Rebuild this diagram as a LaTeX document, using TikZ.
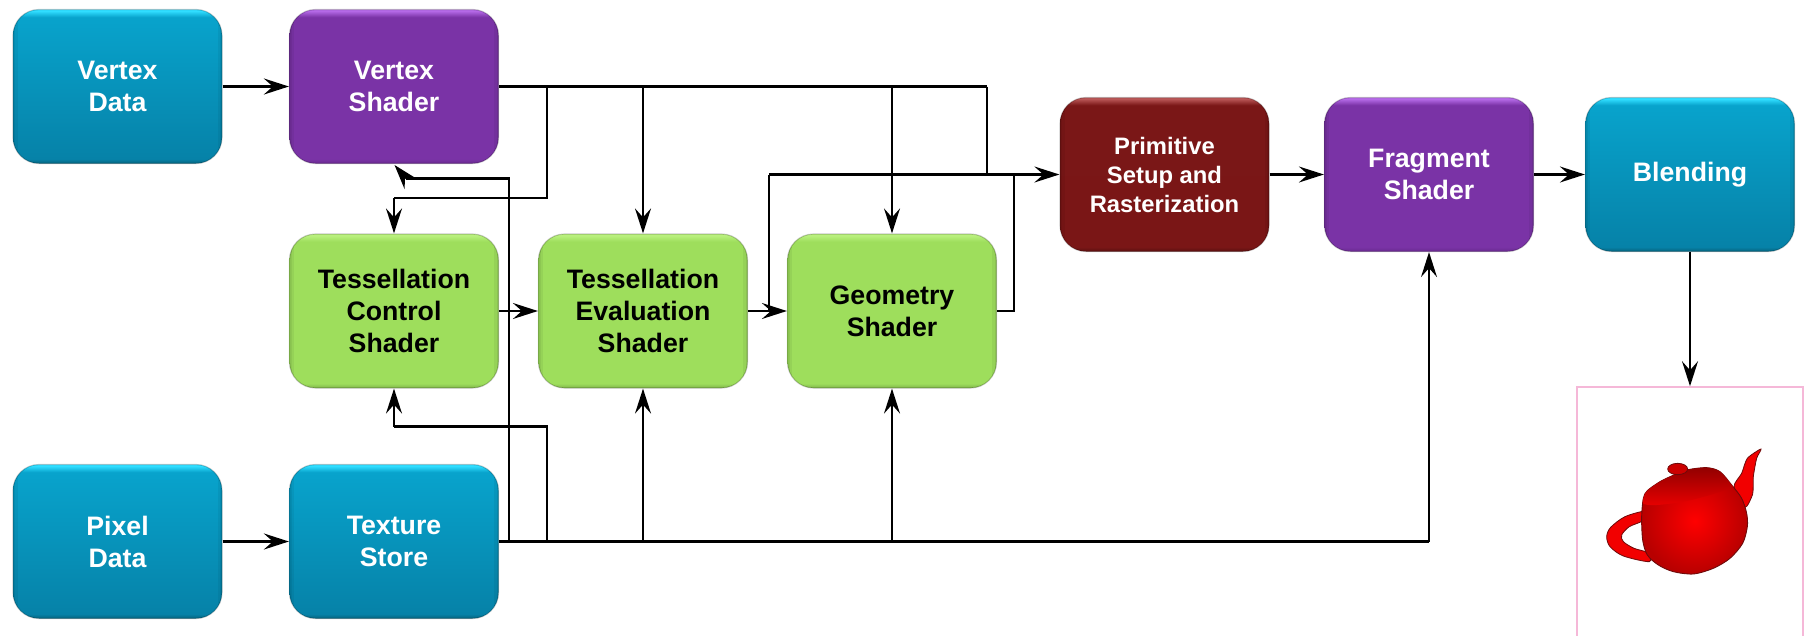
\documentclass[tikz,border=0pt]{standalone}
\usepackage{fontspec}
\setmainfont{Liberation Sans}
\usetikzlibrary{arrows.meta}
\definecolor{bluehi}{HTML}{30DDFF}\definecolor{bluetop}{HTML}{08A3CC}\definecolor{bluelow}{HTML}{0682A8}\definecolor{bluebot}{HTML}{05647F}
\definecolor{purphi}{HTML}{B469E6}\definecolor{purptop}{HTML}{7A33A6}\definecolor{purplow}{HTML}{7A33A6}\definecolor{purpbot}{HTML}{692A90}
\definecolor{greenhi}{HTML}{B9F07E}\definecolor{greentop}{HTML}{9EDE5C}\definecolor{greenlow}{HTML}{9EDE5C}\definecolor{greenbot}{HTML}{7FB54A}
\definecolor{redhi}{HTML}{B85555}\definecolor{redtop}{HTML}{7A1717}\definecolor{redlow}{HTML}{7A1616}\definecolor{redbot}{HTML}{5C1010}
\definecolor{pinkline}{HTML}{F5B8D8}
\definecolor{potdark}{HTML}{6E0A0A}
\pgfdeclareverticalshading{blueshade}{100bp}{color(0bp)=(bluebot);color(25bp)=(bluebot);color(26.5bp)=(bluelow);color(72.5bp)=(bluetop);color(74.5bp)=(bluehi);color(100bp)=(bluehi)}
\pgfdeclareverticalshading{purpshade}{100bp}{color(0bp)=(purpbot);color(25bp)=(purpbot);color(26.5bp)=(purplow);color(72.5bp)=(purptop);color(74.5bp)=(purphi);color(100bp)=(purphi)}
\pgfdeclareverticalshading{greenshade}{100bp}{color(0bp)=(greenbot);color(25bp)=(greenbot);color(26.5bp)=(greenlow);color(72.5bp)=(greentop);color(74.5bp)=(greenhi);color(100bp)=(greenhi)}
\pgfdeclareverticalshading{redshade}{100bp}{color(0bp)=(redbot);color(25bp)=(redbot);color(26.5bp)=(redlow);color(72.5bp)=(redtop);color(74.5bp)=(redhi);color(100bp)=(redhi)}
\tikzset{
  boxbase/.style={rectangle,rounded corners=26pt,minimum width=209pt,minimum height=154pt,inner sep=0pt,align=center,
    draw=black,draw opacity=.2,line width=1.2pt,
    font=\bfseries\fontsize{26.7}{32}\selectfont,
    execute at begin node={\vspace*{3pt}},
    path picture={
      \draw[black,opacity=.05,line width=9pt] (path picture bounding box.south west) -- (path picture bounding box.north west)
         (path picture bounding box.south east) -- (path picture bounding box.north east);
      \draw[black,opacity=.05,line width=4pt] (path picture bounding box.south west) -- (path picture bounding box.north west)
         (path picture bounding box.south east) -- (path picture bounding box.north east);
    }},
  bluebox/.style={boxbase,shading=blueshade,text=white},
  purplebox/.style={boxbase,shading=purpshade,text=white},
  greenbox/.style={boxbase,shading=greenshade,text=black},
  redbox/.style={boxbase,shading=redshade,text=white,font=\bfseries\fontsize{23.8}{29}\selectfont},
  wire/.style={draw=black,line width=2.1pt},
  heavy/.style={draw=black,line width=2.8pt},
  tip/.style={-{Stealth[length=25pt,width=16pt,inset=9pt]}},
}
\begin{document}
\begin{tikzpicture}[x=1pt,y=-1pt]
\useasboundingbox (0,0) rectangle (1804,635);
\fill[white] (0,0) rectangle (1804,635);
% boxes
\node[bluebox] (vd) at (117.5,86.5) {Vertex\\Data};
\node[purplebox] (vs) at (394,86.5) {Vertex\\Shader};
\node[greenbox] (tcs) at (394,311) {Tessellation\\Control\\Shader};
\node[greenbox] (tes) at (643,311) {Tessellation\\Evaluation\\Shader};
\node[greenbox] (geo) at (892,311) {Geometry\\Shader};
\node[redbox] (prim) at (1164.5,174.5) {Primitive\\Setup and\\Rasterization};
\node[purplebox] (fs) at (1429,174.5) {Fragment\\Shader};
\node[bluebox] (bl) at (1690,174.5) {Blending};
\node[bluebox] (pd) at (117.5,541.5) {Pixel\\Data};
\node[bluebox] (ts) at (394,541.5) {Texture\\Store};
\node[rectangle,draw=pinkline,line width=1.6pt,minimum width=226.5pt,minimum height=262pt,inner sep=0pt] (out) at (1690,518) {};
% junctions
\coordinate (topA) at (547,86.5);
\coordinate (topB) at (643,86.5);
\coordinate (topC) at (892,86.5);
\coordinate (topD) at (987,86.5);
\coordinate (midA) at (547,198);
\coordinate (midB) at (394,198);
\coordinate (busL) at (769,174.5);
\coordinate (busM) at (987,174.5);
\coordinate (busR) at (1014,174.5);
\coordinate (tesOut) at (769,311);
\coordinate (geoOut) at (1014,311);
\coordinate (botA) at (509,541.5);
\coordinate (botB) at (547,541.5);
\coordinate (botC) at (643,541.5);
\coordinate (botD) at (892,541.5);
\coordinate (botE) at (1429,541.5);
\coordinate (upA) at (509,178.5);
\coordinate (upB) at (406,178.5);
\coordinate (vsIn) at (394.5,165);
\coordinate (lowA) at (547,426.5);
\coordinate (lowB) at (394,426.5);
% connectors
\draw[wire] (vs.east) -- (topD);
\draw[heavy] (vs.east) -- (topC);
\draw[wire] (topD) -- (busM);
\draw[wire] (topA) -- (midA) -- (midB);
\draw[wire,tip] (midB) -- (tcs.north);
\draw[wire,tip] (topB) -- (tes.north);
\draw[wire,tip] (topC) -- (geo.north);
\draw[wire] (tesOut) -- (busL);
\draw[heavy] (busL) -- (busR);
\draw[wire,tip] (busR) -- (prim.west);
\draw[wire] (geo.east) -- (geoOut) -- (busR);
\draw[heavy,tip] (vd.east) -- (vs.west);
\draw[heavy,tip] (pd.east) -- (ts.west);
\draw[wire,tip] (tcs.east) -- (tes.west);
\draw[wire,tip] (tes.east) -- (geo.west);
\draw[wire,tip] (prim.east) -- (fs.west);
\draw[wire,tip] (fs.east) -- (bl.west);
\draw[wire,tip] (bl.south) -- (out.north -| bl.south);
\draw[heavy] (ts.east) -- (botD);
\draw[heavy] (botD) -- (botE);
\draw[wire,tip] (botE) -- (fs.south);
\draw[wire] (botA) -- (upA) -- (upB);
\draw[wire,tip] (upB) -- (vsIn);
\draw[wire] (botB) -- (lowA) -- (lowB);
\draw[wire,tip] (lowB) -- (tcs.south);
\draw[wire,tip] (botC) -- (tes.south);
\draw[wire,tip] (botD) -- (geo.south);
% teapot
\begin{scope}[shift={(1560,370)},x=0.3333pt,y=-0.3333pt]
  \draw[potdark,line width=.8pt,fill=red!95!black] plot[smooth cycle] coordinates {(255,424)(195,440)(152,472)(140,500)(150,530)(190,558)(268,575)(262,548)(222,535)(190,515)(185,495)(208,470)(248,452)};
  \draw[potdark,line width=.8pt,fill=red!95!black] plot[smooth cycle,tension=.4] coordinates {(522,350)(545,310)(562,265)(603,237)(590,265)(580,320)(578,372)(555,412)};
  \path[draw=potdark,line width=.9pt,inner color=red,outer color=red!72!black,shading=radial] plot[smooth cycle] coordinates {(250,385)(262,362)(300,335)(335,318)(380,300)(440,293)(480,305)(515,345)(545,385)(560,430)(562,470)(548,520)(510,565)(460,595)(400,612)(340,605)(295,585)(262,555)(248,510)(245,440)};
  \begin{scope}
    \clip plot[smooth cycle] coordinates {(250,385)(262,362)(300,335)(335,318)(380,300)(440,293)(480,305)(515,345)(545,385)(560,430)(562,470)(548,520)(510,565)(460,595)(400,612)(340,605)(295,585)(262,555)(248,510)(245,440)};
    \shade[top color=red!55!black,bottom color=red!92!black] plot[smooth cycle,tension=.5] coordinates {(240,300)(400,285)(540,300)(530,345)(440,378)(340,400)(245,398)};
  \end{scope}
  \draw[potdark,line width=.8pt,fill=red!80!black] (353,297) ellipse [x radius=30,y radius=17];
\end{scope}
\end{tikzpicture}
\end{document}
